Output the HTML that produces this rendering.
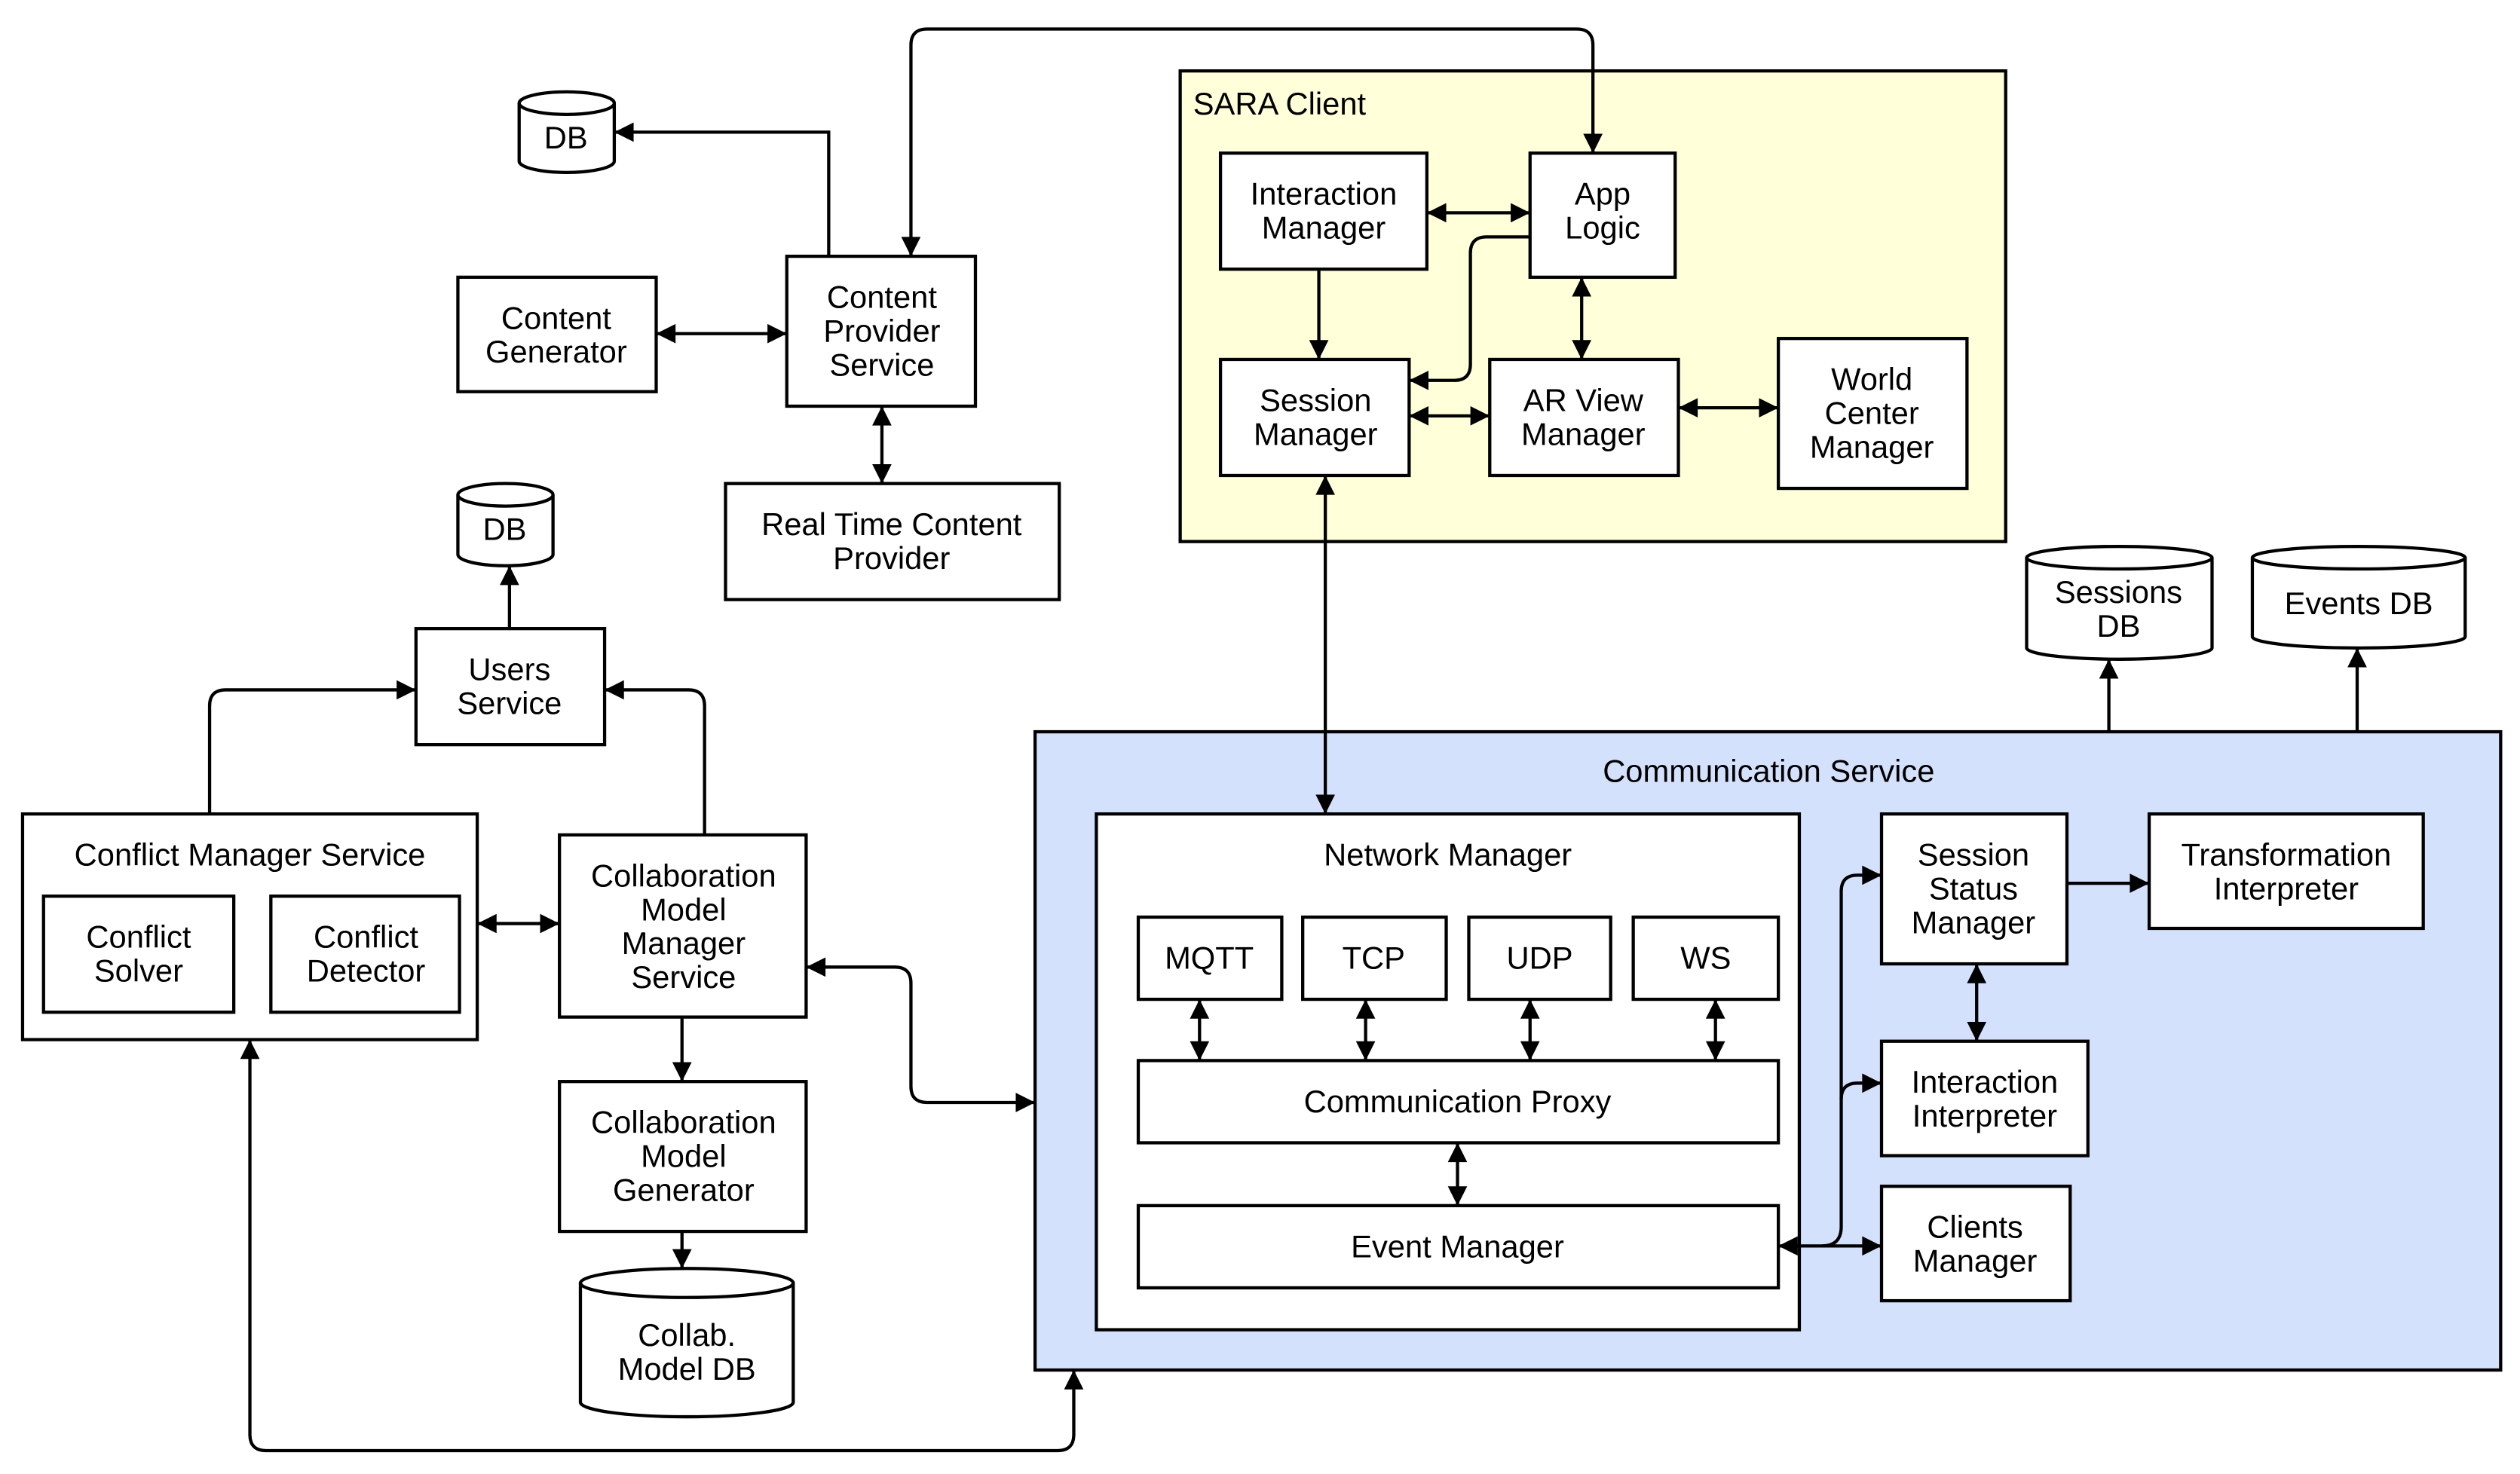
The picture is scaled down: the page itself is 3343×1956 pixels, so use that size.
<!DOCTYPE html>
<html><head><meta charset="utf-8"><style>
html,body{margin:0;padding:0;background:#fff;width:3343px;height:1956px;overflow:hidden}
svg{display:block}
text{font-family:"Liberation Sans",sans-serif;font-size:19.5px;fill:#000;text-anchor:middle}
.b{fill:#fff;stroke:#000;stroke-width:2}
.l{fill:none;stroke:#000;stroke-width:2}
</style></head><body>
<svg width="3343" height="1956" viewBox="0 0 1563 914.5" preserveAspectRatio="none" xmlns="http://www.w3.org/2000/svg">
<defs>
<marker id="a" viewBox="0 0 10 10" refX="10" refY="5" markerWidth="14" markerHeight="12" markerUnits="userSpaceOnUse" orient="auto-start-reverse"><path d="M0,0L10,5L0,10z" fill="#000"/></marker>
</defs>
<rect x="732" y="44" width="512" height="292" fill="#ffffd9" stroke="#000" stroke-width="2"/>
<text x="740" y="71" style="text-anchor:start">SARA Client</text>
<rect x="642" y="454" width="909" height="396" fill="#d4e1fc" stroke="#000" stroke-width="2"/>
<text x="1097" y="485">Communication Service</text>
<rect x="680" y="505" width="436" height="320" class="b"/>
<text x="898" y="537">Network Manager</text>

<g class="l" marker-end="url(#a)">
<path d="M514,159V82H381"/>
<path d="M565,159V28q0-10 10-10H978q10,0 10,10V95" marker-start="url(#a)"/>
<path d="M407,207H488" marker-start="url(#a)"/>
<path d="M547,252V300" marker-start="url(#a)"/>
<path d="M316,390V351"/>
<path d="M130,505V438q0-10 10-10H258"/>
<path d="M437,518V438q0-10-10-10H375"/>
<path d="M296,573H347" marker-start="url(#a)"/>
<path d="M423,631V671"/>
<path d="M423,764V787"/>
<path d="M500,600H555q10,0 10,10V674q0,10 10,10H642" marker-start="url(#a)"/>
<path d="M155,645V890q0,10 10,10H656q10,0 10-10V850" marker-start="url(#a)"/>
<path d="M818,167V223"/>
<path d="M885,132H949" marker-start="url(#a)"/>
<path d="M949,147H922q-10,0-10,10V226q0,10-10,10H874"/>
<path d="M981,172V223" marker-start="url(#a)"/>
<path d="M874,258H924" marker-start="url(#a)"/>
<path d="M1041,253H1103" marker-start="url(#a)"/>
<path d="M822,295V505" marker-start="url(#a)"/>
<path d="M1308,454V409"/>
<path d="M1462,454V402"/>
<path d="M744,620V658" marker-start="url(#a)"/>
<path d="M847,620V658" marker-start="url(#a)"/>
<path d="M949,620V658" marker-start="url(#a)"/>
<path d="M1064,620V658" marker-start="url(#a)"/>
<path d="M904,709V748" marker-start="url(#a)"/>
<path d="M1103,773H1167" marker-start="url(#a)"/>
<path d="M1130,773q12,0 12-12V553q0-10 10-10H1167"/>
<path d="M1142,682q0-10 10-10H1167"/>
<path d="M1226,598V646" marker-start="url(#a)"/>
<path d="M1282,548H1333"/>
</g>

<g class="b">
<path d="M322,64v36a29.5,7 0 0 0 59,0v-36"/><ellipse cx="351.5" cy="64" rx="29.5" ry="7"/>
<path d="M284,307v37a29.5,7 0 0 0 59,0v-37"/><ellipse cx="313.5" cy="307" rx="29.5" ry="7"/>
<path d="M360,796v74a66,9 0 0 0 132,0v-74"/><ellipse cx="426" cy="796" rx="66" ry="9"/>
<path d="M1257,346v56a57.5,7 0 0 0 115,0v-56"/><ellipse cx="1314.5" cy="346" rx="57.5" ry="7"/>
<path d="M1397,346v49a66,7 0 0 0 132,0v-49"/><ellipse cx="1463" cy="346" rx="66" ry="7"/>
</g>
<text x="351" y="92">DB</text>
<text x="313" y="335">DB</text>
<text x="426" y="835">Collab.</text><text x="426" y="856">Model DB</text>
<text x="1314" y="374">Sessions</text><text x="1314" y="395">DB</text>
<text x="1463" y="381">Events DB</text>

<g class="b">
<rect x="284" y="172" width="123" height="71"/>
<rect x="488" y="159" width="117" height="93"/>
<rect x="450" y="300" width="207" height="72"/>
<rect x="258" y="390" width="117" height="72"/>
<rect x="14" y="505" width="282" height="140"/>
<rect x="27" y="556" width="118" height="72"/>
<rect x="168" y="556" width="117" height="72"/>
<rect x="347" y="518" width="153" height="113"/>
<rect x="347" y="671" width="153" height="93"/>
<rect x="757" y="95" width="128" height="72"/>
<rect x="949" y="95" width="90" height="77"/>
<rect x="757" y="223" width="117" height="72"/>
<rect x="924" y="223" width="117" height="72"/>
<rect x="1103" y="210" width="117" height="93"/>
<rect x="706" y="569" width="89" height="51"/>
<rect x="808" y="569" width="89" height="51"/>
<rect x="911" y="569" width="88" height="51"/>
<rect x="1013" y="569" width="90" height="51"/>
<rect x="706" y="658" width="397" height="51"/>
<rect x="706" y="748" width="397" height="51"/>
<rect x="1167" y="505" width="115" height="93"/>
<rect x="1333" y="505" width="170" height="71"/>
<rect x="1167" y="646" width="128" height="71"/>
<rect x="1167" y="736" width="117" height="71"/>
</g>
<text x="345" y="204">Content</text><text x="345" y="225">Generator</text>
<text x="547" y="191">Content</text><text x="547" y="212">Provider</text><text x="547" y="233">Service</text>
<text x="553" y="332">Real Time Content</text><text x="553" y="353">Provider</text>
<text x="316" y="422">Users</text><text x="316" y="443">Service</text>
<text x="155" y="537">Conflict Manager Service</text>
<text x="86" y="588">Conflict</text><text x="86" y="609">Solver</text>
<text x="227" y="588">Conflict</text><text x="227" y="609">Detector</text>
<text x="424" y="550">Collaboration</text><text x="424" y="571">Model</text><text x="424" y="592">Manager</text><text x="424" y="613">Service</text>
<text x="424" y="703">Collaboration</text><text x="424" y="724">Model</text><text x="424" y="745">Generator</text>
<text x="821" y="127">Interaction</text><text x="821" y="148">Manager</text>
<text x="994" y="127">App</text><text x="994" y="148">Logic</text>
<text x="816" y="255">Session</text><text x="816" y="276">Manager</text>
<text x="982" y="255">AR View</text><text x="982" y="276">Manager</text>
<text x="1161" y="242">World</text><text x="1161" y="263">Center</text><text x="1161" y="284">Manager</text>
<text x="750" y="601">MQTT</text>
<text x="852" y="601">TCP</text>
<text x="955" y="601">UDP</text>
<text x="1058" y="601">WS</text>
<text x="904" y="690">Communication Proxy</text>
<text x="904" y="780">Event Manager</text>
<text x="1224" y="537">Session</text><text x="1224" y="558">Status</text><text x="1224" y="579">Manager</text>
<text x="1418" y="537">Transformation</text><text x="1418" y="558">Interpreter</text>
<text x="1231" y="678">Interaction</text><text x="1231" y="699">Interpreter</text>
<text x="1225" y="768">Clients</text><text x="1225" y="789">Manager</text>
</svg>
</body></html>
